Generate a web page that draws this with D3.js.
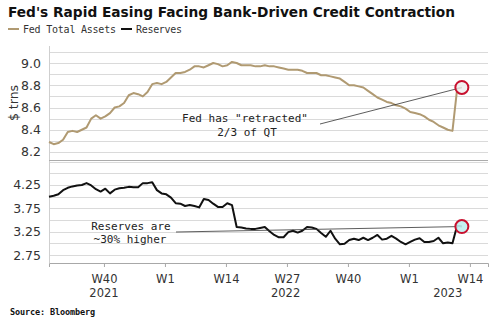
<!DOCTYPE html>
<html>
<head>
<meta charset="utf-8">
<script src="https://cdn.jsdelivr.net/npm/d3@7"></script>
<style>
  body { margin: 0; background: #fff; }
  svg { display: block; }
</style>
</head>
<body>
<script>
let w = 500
let h = 323

// weekly observations, first one on startDate
let startDate = new Date(2021, 6, 14)
let fedAssets = [
  8.29, 8.27, 8.28, 8.31, 8.38, 8.39, 8.38, 8.40, 8.42, 8.50,
  8.53, 8.50, 8.52, 8.55, 8.60, 8.61, 8.64, 8.71, 8.73, 8.72,
  8.70, 8.74, 8.81, 8.82, 8.81, 8.83, 8.87, 8.91, 8.91, 8.92,
  8.94, 8.97, 8.97, 8.96, 8.98, 9.00, 8.99, 8.97, 8.98, 9.01,
  9.00, 8.98, 8.98, 8.98, 8.97, 8.97, 8.98, 8.97, 8.97, 8.96,
  8.95, 8.94, 8.94, 8.94, 8.93, 8.91, 8.91, 8.91, 8.89, 8.89,
  8.88, 8.87, 8.86, 8.83, 8.80, 8.80, 8.79, 8.78, 8.75, 8.72,
  8.69, 8.67, 8.65, 8.64, 8.62, 8.61, 8.59, 8.56, 8.55, 8.54,
  8.52, 8.49, 8.47, 8.44, 8.42, 8.40, 8.39, 8.77, 8.78
]
let reserves = [
  4.00, 4.02, 4.05, 4.14, 4.19, 4.22, 4.24, 4.25, 4.29, 4.24,
  4.16, 4.11, 4.17, 4.07, 4.15, 4.18, 4.19, 4.21, 4.20, 4.20,
  4.29, 4.29, 4.31, 4.14, 4.07, 4.05, 3.98, 3.86, 3.85, 3.80,
  3.82, 3.80, 3.77, 3.95, 3.93, 3.85, 3.78, 3.78, 3.86, 3.82,
  3.35, 3.34, 3.32, 3.31, 3.31, 3.33, 3.35, 3.26, 3.18, 3.13,
  3.13, 3.24, 3.27, 3.23, 3.27, 3.35, 3.34, 3.31, 3.22, 3.14,
  3.27, 3.10, 2.98, 2.99, 3.07, 3.10, 3.07, 3.12, 3.07, 3.12,
  3.18, 3.08, 3.10, 3.16, 3.10, 3.03, 2.98, 3.03, 3.08, 3.11,
  3.03, 3.03, 3.05, 3.12, 3.00, 3.02, 3.00, 3.38, 3.36
]

let topTicks = [8.2, 8.4, 8.6, 8.8, 9.0]
let topGrid = [8.2, 8.3, 8.4, 8.5, 8.6, 8.7, 8.8, 8.9, 9.0, 9.1]
let bottomTicks = [2.75, 3.25, 3.75, 4.25]
let bottomGrid = [2.75, 3.0, 3.25, 3.5, 3.75, 4.0, 4.25, 4.5, 4.75]
let weekTicks = ["2021-10-04", "2022-01-03", "2022-04-04", "2022-07-04", "2022-10-03", "2023-01-02", "2023-04-03"]
let yearLabels = [
  { year: "2021", at: "2021-10-04" },
  { year: "2022", at: "2022-07-02" },
  { year: "2023", at: "2023-03-01" }
]

let parse = d3.timeParse("%Y-%m-%d")
let dates = fedAssets.map((v, i) => d3.timeDay.offset(startDate, i * 7))

let left = 49
let right = 488
let gold = "#b09a72"

let svg = d3.select("body").append("svg")
  .attr("width", w)
  .attr("height", h)

let x = d3.scaleTime()
  .domain([startDate, new Date(2023, 3, 30)])
  .range([left, right])

let yTop = d3.scaleLinear().domain([8.128, 9.153]).range([160, 46])
let yBot = d3.scaleLinear().domain([2.579, 4.764]).range([263, 161])

// title + legend
svg.append("text")
  .text("Fed's Rapid Easing Facing Bank-Driven Credit Contraction")
  .attr("x", 8)
  .attr("y", 17)
  .attr("textLength", 447)
  .attr("lengthAdjust", "spacingAndGlyphs")
  .style("font-family", "DejaVu Sans")
  .style("font-weight", "bold")
  .style("font-size", "14px")
  .attr("fill", "#111")

let legend = svg.append("g")
legend.append("line").attr("x1", 8).attr("x2", 19).attr("y1", 29).attr("y2", 29)
  .attr("stroke", gold).attr("stroke-width", 2)
legend.append("text").text("Fed Total Assets").attr("x", 23).attr("y", 32.5)
  .attr("textLength", 93)
  .style("font-family", "DejaVu Sans Mono").style("font-size", "10px").attr("fill", "#333")
legend.append("line").attr("x1", 121).attr("x2", 132).attr("y1", 29).attr("y2", 29)
  .attr("stroke", "#111").attr("stroke-width", 2)
legend.append("text").text("Reserves").attr("x", 136).attr("y", 32.5)
  .attr("textLength", 46)
  .style("font-family", "DejaVu Sans Mono").style("font-size", "10px").attr("fill", "#333")

// gridlines
let grid = svg.append("g")
grid.selectAll(".gt")
  .data(topGrid)
  .enter()
  .append("line")
  .attr("x1", left).attr("x2", right)
  .attr("y1", d => Math.round(yTop(d)) + 0.5)
  .attr("y2", d => Math.round(yTop(d)) + 0.5)
  .attr("stroke", "#dadada")
grid.selectAll(".gb")
  .data(bottomGrid)
  .enter()
  .append("line")
  .attr("x1", left).attr("x2", right)
  .attr("y1", d => Math.round(yBot(d)) + 0.5)
  .attr("y2", d => Math.round(yBot(d)) + 0.5)
  .attr("stroke", "#dadada")

// panel frame
svg.append("line").attr("x1", left + 0.5).attr("x2", left + 0.5).attr("y1", 46).attr("y2", 263)
  .attr("stroke", "#cfcfcf")
svg.append("line").attr("x1", left).attr("x2", right).attr("y1", 160.5).attr("y2", 160.5)
  .attr("stroke", "#ababab")

// y axes
let tickFont = g => g.selectAll("text")
  .style("font-family", "DejaVu Sans")
  .style("font-size", "12.5px")
  .attr("fill", "#333")

svg.append("g")
  .attr("transform", `translate(${left - 5},0)`)
  .call(d3.axisLeft(yTop).tickValues(topTicks).tickFormat(d3.format(".1f")).tickSize(0))
  .call(g => g.select(".domain").remove())
  .call(tickFont)

svg.append("g")
  .attr("transform", `translate(${left - 5},0)`)
  .call(d3.axisLeft(yBot).tickValues(bottomTicks).tickFormat(d3.format(".2f")).tickSize(0))
  .call(g => g.select(".domain").remove())
  .call(tickFont)

svg.append("text")
  .text("$ trns")
  .attr("transform", "translate(18,103) rotate(-90)")
  .attr("text-anchor", "middle")
  .style("font-family", "DejaVu Sans")
  .style("font-size", "12.5px")
  .attr("fill", "#333")

// x axis
let xAxis = svg.append("g")
  .attr("transform", "translate(0,263)")
  .call(d3.axisBottom(x)
    .tickValues(weekTicks.map(parse))
    .tickFormat(d => "W" + (+d3.timeFormat("%V")(d)))
    .tickSize(4)
    .tickPadding(8))
xAxis.select(".domain").attr("stroke", "#a8a8a8")
xAxis.selectAll(".tick line").attr("stroke", "#a8a8a8")
xAxis.selectAll("text")
  .style("font-family", "DejaVu Sans")
  .style("font-size", "11.5px")
  .attr("fill", "#333")

svg.append("g").selectAll("text")
  .data(yearLabels)
  .enter()
  .append("text")
  .text(d => d.year)
  .attr("x", d => x(parse(d.at)))
  .attr("y", 297)
  .attr("text-anchor", "middle")
  .style("font-family", "DejaVu Sans")
  .style("font-size", "11.5px")
  .attr("fill", "#333")

// series
let topLine = d3.line().x((d, i) => x(dates[i])).y(d => yTop(d))
let botLine = d3.line().x((d, i) => x(dates[i])).y(d => yBot(d))

svg.append("path")
  .datum(fedAssets)
  .attr("d", topLine)
  .attr("fill", "none")
  .attr("stroke", gold)
  .attr("stroke-width", 2)
  .attr("stroke-linejoin", "round")

svg.append("path")
  .datum(reserves)
  .attr("d", botLine)
  .attr("fill", "none")
  .attr("stroke", "#111")
  .attr("stroke-width", 2)
  .attr("stroke-linejoin", "round")

// annotations
let last = fedAssets.length - 1
let annFont = sel => sel
  .attr("text-anchor", "middle")
  .style("font-family", "DejaVu Sans Mono")
  .style("font-size", "11px")
  .attr("fill", "#222")

svg.append("text").text("Fed has \"retracted\"").attr("x", 245).attr("y", 122).call(annFont)
svg.append("text").text("2/3 of QT").attr("x", 247).attr("y", 136).call(annFont)
svg.append("line")
  .attr("x1", 320).attr("y1", 124)
  .attr("x2", x(dates[last])).attr("y2", yTop(fedAssets[last]))
  .attr("stroke", "#333").attr("stroke-width", 0.8)

svg.append("text").text("Reserves are").attr("x", 131).attr("y", 230).call(annFont)
svg.append("text").text("~30% higher").attr("x", 130).attr("y", 243).call(annFont)
svg.append("line")
  .attr("x1", 176).attr("y1", 232)
  .attr("x2", x(dates[last])).attr("y2", yBot(reserves[last]))
  .attr("stroke", "#333").attr("stroke-width", 0.8)

svg.append("circle")
  .attr("cx", x(dates[last])).attr("cy", yTop(fedAssets[last]))
  .attr("r", 6.5)
  .attr("fill", "#eeeeee").attr("fill-opacity", 0.85)
  .attr("stroke", "#c8102e").attr("stroke-width", 2)

svg.append("circle")
  .attr("cx", x(dates[last])).attr("cy", yBot(reserves[last]))
  .attr("r", 6.5)
  .attr("fill", "#bfeef0").attr("fill-opacity", 0.9)
  .attr("stroke", "#c8102e").attr("stroke-width", 2)

svg.append("text")
  .text("Source: Bloomberg")
  .attr("x", 10)
  .attr("y", 315)
  .attr("textLength", 85)
  .style("font-family", "DejaVu Sans Mono")
  .style("font-weight", "bold")
  .style("font-size", "8.5px")
  .attr("fill", "#111")
</script>
</body>
</html>
